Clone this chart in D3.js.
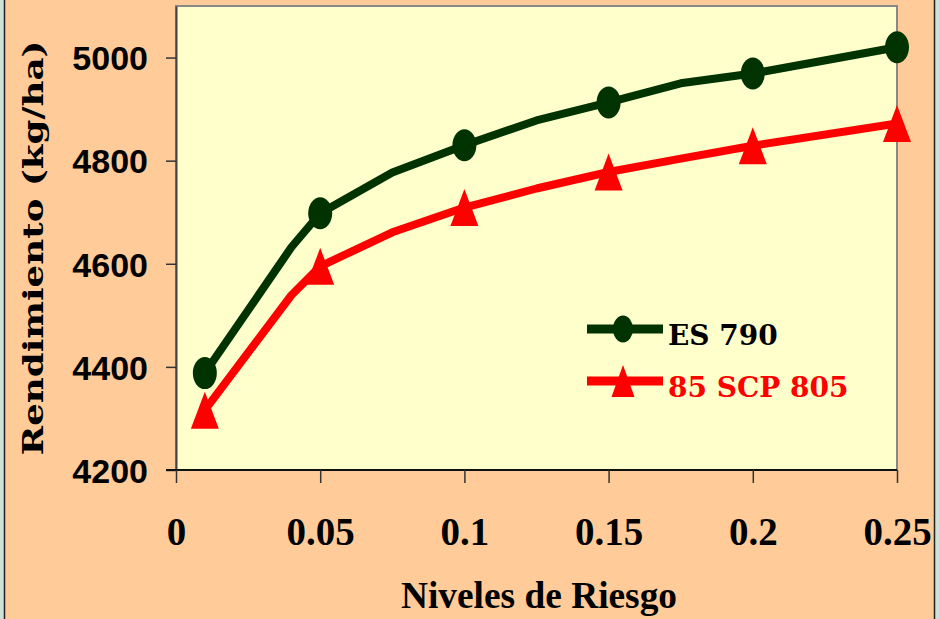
<!DOCTYPE html>
<html>
<head>
<meta charset="utf-8">
<script src="https://cdn.jsdelivr.net/npm/d3@7"></script>
<style>
  html, body { margin: 0; padding: 0; background: #cfe2d7; }
  svg { display: block; }
</style>
</head>
<body>
<svg id="chart" width="939" height="619"></svg>
<script>
// risk levels (x) and yields (kg/ha)
const riesgo = [0.01, 0.04, 0.05, 0.075, 0.1, 0.125, 0.15, 0.175, 0.2, 0.25]
const es790 = [4388, 4632, 4698, 4777, 4830, 4878, 4913, 4950, 4969, 5020]
const scp805 = [4316, 4539, 4595, 4661, 4709, 4746, 4778, 4804, 4829, 4872]
// x values that carry a marker
const marcados = [0.01, 0.05, 0.1, 0.15, 0.2, 0.25]

const xTicks = [0, 0.05, 0.1, 0.15, 0.2, 0.25]
const xTickLabels = ["0", "0.05", "0.1", "0.15", "0.2", "0.25"]
const yTicks = [4200, 4400, 4600, 4800, 5000]

const series = [
  { name: "ES 790", values: es790, color: "#003300", text: "#000000", marker: "circle" },
  { name: "85 SCP 805", values: scp805, color: "#ff0000", text: "#ff0000", marker: "triangle" },
]

const svg = d3.select("#chart")
const width = 939, height = 619
const plot = { left: 176, right: 897, top: 6, bottom: 470 }

// outer frame
svg.append("rect").attr("x", 4).attr("y", 0).attr("width", 931).attr("height", height)
  .attr("fill", "#ffcc99")
svg.append("line").attr("x1", 4.5).attr("x2", 4.5).attr("y1", 0).attr("y2", height)
  .attr("stroke", "#222").attr("stroke-width", 1.5)
svg.append("line").attr("x1", 934.5).attr("x2", 934.5).attr("y1", 0).attr("y2", height)
  .attr("stroke", "#222").attr("stroke-width", 1.5)

const x = d3.scaleLinear().domain([0, 0.25]).range([plot.left, plot.right])
const y = d3.scaleLinear().domain([4200, 5100]).range([plot.bottom, plot.top])

svg.append("rect")
  .attr("x", plot.left).attr("y", plot.top)
  .attr("width", plot.right - plot.left).attr("height", plot.bottom - plot.top)
  .attr("fill", "#ffffcc")
  .attr("stroke", "#888").attr("stroke-width", 2)

// y axis
const yAxis = svg.append("g")
  .attr("transform", `translate(${plot.left},0)`)
  .call(d3.axisLeft(y).tickValues(yTicks).tickSize(10).tickSizeOuter(0).tickPadding(18)
    .tickFormat(d3.format("d")))
yAxis.select(".domain").attr("stroke", "#444").attr("stroke-width", 2)
yAxis.selectAll(".tick line").attr("stroke", "#333").attr("stroke-width", 1.5)
yAxis.selectAll(".tick text")
  .attr("font-family", "'Liberation Sans', Arial, sans-serif")
  .attr("font-weight", "bold").attr("font-size", 34).attr("fill", "#000")
  .attr("dy", "0.36em")

// x axis
const xAxis = svg.append("g")
  .attr("transform", `translate(0,${plot.bottom})`)
  .call(d3.axisBottom(x).tickValues(xTicks).tickSize(13).tickSizeOuter(0).tickPadding(34)
    .tickFormat((d, i) => xTickLabels[i]))
xAxis.select(".domain").attr("stroke", "#111").attr("stroke-width", 2)
  .attr("d", `M${plot.left - 10},0H${plot.right}`)
xAxis.selectAll(".tick line").attr("stroke", "#333").attr("stroke-width", 1.5)
xAxis.selectAll(".tick text")
  .attr("font-family", "'Liberation Serif', 'Times New Roman', serif")
  .attr("font-weight", "bold").attr("font-size", 39).attr("fill", "#000")

// lines
const line = d3.line()
  .x((d, i) => x(riesgo[i]))
  .y(d => y(d))

const triangle = (cx, cy, w, h) =>
  `M${cx},${cy - h / 2}L${cx + w / 2},${cy + h / 2}L${cx - w / 2},${cy + h / 2}Z`

series.forEach(s => {
  svg.append("path")
    .attr("d", line(s.values))
    .attr("fill", "none")
    .attr("stroke", s.color)
    .attr("stroke-width", 8)
    .attr("stroke-linejoin", "round")

  const pts = riesgo.map((r, i) => ({ r, v: s.values[i] })).filter(p => marcados.includes(p.r))
  const g = svg.append("g")
  if (s.marker === "circle") {
    g.selectAll("ellipse").data(pts).enter().append("ellipse")
      .attr("cx", d => x(d.r)).attr("cy", d => y(d.v))
      .attr("rx", 12).attr("ry", 16)
      .attr("fill", s.color)
  } else {
    g.selectAll("path").data(pts).enter().append("path")
      .attr("d", d => triangle(x(d.r), y(d.v), 28, 37))
      .attr("fill", s.color)
  }
})

// legend
const legend = svg.append("g")
series.forEach((s, i) => {
  const ly = 329 + i * 52
  legend.append("line")
    .attr("x1", 587).attr("x2", 663).attr("y1", ly).attr("y2", ly)
    .attr("stroke", s.color).attr("stroke-width", 9)
  if (s.marker === "circle") {
    legend.append("ellipse").attr("cx", 623).attr("cy", ly).attr("rx", 10).attr("ry", 13.5)
      .attr("fill", s.color)
  } else {
    legend.append("path").attr("d", triangle(623, ly, 23, 32)).attr("fill", s.color)
  }
  legend.append("text")
    .attr("x", 668).attr("y", ly + 16)
    .attr("font-family", "'DejaVu Serif', serif")
    .attr("font-weight", "bold").attr("font-size", 28)
    .attr("fill", s.text)
    .text(s.name)
})

// axis titles
svg.append("text")
  .attr("transform", "translate(43,248) rotate(-90)")
  .attr("text-anchor", "middle")
  .attr("font-family", "'DejaVu Serif', serif")
  .attr("font-weight", "bold").attr("font-size", 27)
  .attr("textLength", 415).attr("lengthAdjust", "spacingAndGlyphs")
  .text("Rendimiento (kg/ha)")

svg.append("text")
  .attr("x", 539).attr("y", 608)
  .attr("text-anchor", "middle")
  .attr("font-family", "'Liberation Serif', serif")
  .attr("font-weight", "bold").attr("font-size", 37)
  .attr("textLength", 276).attr("lengthAdjust", "spacingAndGlyphs")
  .text("Niveles de Riesgo")
</script>
</body>
</html>
